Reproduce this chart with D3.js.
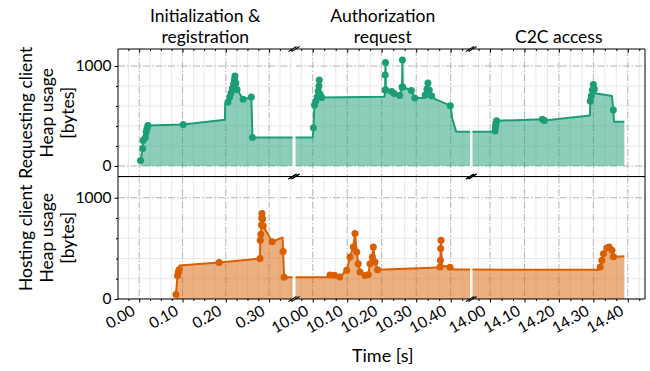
<!DOCTYPE html>
<html>
<head>
<meta charset="utf-8">
<script src="https://cdn.jsdelivr.net/npm/d3@7"></script>
<style>
  html, body { margin: 0; padding: 0; background: #fff; }
  svg { display: block; }
</style>
</head>
<body>
<svg id="chart" width="650" height="371"></svg>
<script>
// Heap usage of the requesting and hosting client over the three protocol phases.

const phaseTitles = [["Initialization &", "registration"], ["Authorization", "request"], ["C2C access"]];
const rowLabels = [["Requesting client", "Heap usage", "[bytes]"], ["Hosting client", "Heap usage", "[bytes]"]];
const xLabel = "Time [s]";

// visible time window of each broken-axis segment
const xDomains = [[-0.049, 0.354], [9.95, 10.456], [13.949, 14.45]];
const xMajorTicks = [[0.0, 0.1, 0.2, 0.3], [10.0, 10.1, 10.2, 10.3, 10.4], [14.0, 14.1, 14.2, 14.3, 14.4]];
const xMinorSteps = [0.025, 0.1 / 3, 0.1 / 3];
const yDomains = [[-105, 1170], [0, 1210]];
const yMajorTicks = [0, 1000];
const yMinorTicks = [200, 400, 600, 800, 1200];

// requesting client: time [s], heap [bytes], marker flag
const reqTime = [0.003, 0.008, 0.009, 0.014, 0.016, 0.018, 0.020, 0.1015, 0.198, 0.1985,
  0.205, 0.209, 0.212, 0.215, 0.218, 0.220, 0.221, 0.223, 0.226, 0.240, 0.259, 0.2615,
  10.000, 10.002, 10.005, 10.009, 10.013, 10.016, 10.018, 10.019, 10.021, 10.026,
  10.208, 10.210, 10.2102, 10.211, 10.212, 10.229, 10.236, 10.252, 10.259, 10.260, 10.261,
  10.286, 10.296, 10.324, 10.326, 10.331, 10.334, 10.338, 10.345, 10.350, 10.399, 10.405, 10.416,
  14.014, 14.0145, 14.0155, 14.0165, 14.0175, 14.019, 14.152, 14.158, 14.290,
  14.291, 14.294, 14.297, 14.300, 14.303, 14.305, 14.354, 14.358, 14.360, 14.390];
const reqHeap = [55, 175, 255, 285, 340, 375, 405, 415, 462, 625,
  640, 690, 730, 775, 820, 865, 900, 830, 765, 667, 690, 285,
  285, 383, 610, 650, 690, 750, 800, 860, 720, 685,
  693, 760, 910, 1035, 760, 745, 725, 705, 790, 1060, 790,
  755, 680, 680, 710, 770, 830, 760, 700, 677, 603, 470, 343,
  343, 350, 385, 415, 440, 452, 468, 455, 505,
  650, 700, 760, 815, 770, 727, 700, 560, 443, 443];
const reqMark = [1, 1, 1, 1, 1, 1, 1, 1, 0, 0,
  1, 1, 1, 1, 1, 1, 1, 1, 1, 1, 1, 1,
  0, 1, 1, 1, 1, 1, 1, 1, 1, 1,
  0, 1, 1, 1, 1, 1, 1, 1, 1, 1, 1,
  1, 1, 0, 1, 1, 1, 1, 1, 0, 1, 0, 0,
  0, 1, 1, 1, 1, 1, 1, 1, 0,
  1, 1, 1, 1, 1, 0, 0, 1, 0, 0];

// hosting client: time [s], heap [bytes], marker flag
const hostTime = [0.0847, 0.0885, 0.0905, 0.0920, 0.093, 0.1845, 0.279, 0.2795, 0.281, 0.2825,
  0.283, 0.2835, 0.285, 0.2865, 0.307, 0.331, 0.3323, 0.3347,
  10.046, 10.050, 10.063, 10.078, 10.0985, 10.108, 10.1177, 10.1226, 10.1275, 10.132, 10.137,
  10.1516, 10.161, 10.166, 10.1728, 10.1757, 10.1806, 10.188, 10.366, 10.369, 10.370, 10.371,
  10.372, 10.374, 10.398, 10.410,
  14.315, 14.3198, 14.3247, 14.3294, 14.339, 14.346, 14.354, 14.3585, 14.390];
const hostHeap = [45, 230, 265, 290, 330, 360, 400, 580, 640, 730,
  800, 845, 790, 720, 565, 608, 470, 216,
  216, 238, 234, 218, 283, 415, 514, 647, 464, 349, 266,
  233, 240, 349, 415, 514, 365, 290, 310, 315, 382, 498,
  580, 330, 313, 292,
  290, 315, 382, 448, 504, 514, 481, 418, 422];
const hostMark = [1, 1, 1, 1, 0, 1, 1, 1, 1, 1,
  1, 1, 1, 1, 1, 0, 1, 1,
  0, 1, 1, 1, 1, 1, 1, 1, 1, 1, 1,
  1, 1, 1, 1, 1, 1, 1, 0, 1, 1, 1,
  1, 0, 1, 0,
  0, 1, 1, 1, 1, 1, 1, 1, 0];

const seriesColors = ["#1b9e77", "#d95f02"];

// ---- layout
const FONT = "Lato, 'Open Sans', 'DejaVu Sans', sans-serif";
const colX = [[118, 292.5], [295.5, 470], [472.5, 645]];
const rowY = [[49, 176.5], [176.5, 299]];

const svg = d3.select("#chart");
const defs = svg.append("defs");

const series = [
  { time: reqTime, heap: reqHeap, mark: reqMark },
  { time: hostTime, heap: hostHeap, mark: hostMark }
];

function minorTicksFor(c) {
  const [a, b] = xDomains[c];
  const step = xMinorSteps[c];
  const base = xMajorTicks[c][0];
  const out = [];
  for (let k = Math.ceil((a - base) / step - 1e-9); base + k * step <= b; k++) {
    const v = base + k * step;
    if (!xMajorTicks[c].some(m => Math.abs(m - v) < 1e-6)) out.push(v);
  }
  return out;
}

rowY.forEach((ry, r) => {
  const ys = d3.scaleLinear().domain(yDomains[r]).range([ry[1], ry[0]]);
  const s = series[r];
  const pts = s.time.map((t, i) => ({ t, v: s.heap[i], m: s.mark[i] }));
  const color = seriesColors[r];

  colX.forEach((cx, c) => {
    const xs = d3.scaleLinear().domain(xDomains[c]).range(cx);
    const id = `clip-${r}-${c}`;
    defs.append("clipPath").attr("id", id)
      .append("rect").attr("x", cx[0]).attr("y", ry[0])
      .attr("width", cx[1] - cx[0]).attr("height", ry[1] - ry[0]);

    const g = svg.append("g").attr("clip-path", `url(#${id})`);

    // grid
    const minors = minorTicksFor(c);
    g.selectAll(".vmin").data(minors).join("line")
      .attr("x1", d => xs(d)).attr("x2", d => xs(d))
      .attr("y1", ry[0]).attr("y2", ry[1])
      .attr("stroke", "#e9e9e9").attr("stroke-width", 1);
    g.selectAll(".hmin").data(yMinorTicks).join("line")
      .attr("x1", cx[0]).attr("x2", cx[1])
      .attr("y1", d => ys(d)).attr("y2", d => ys(d))
      .attr("stroke", "#e9e9e9").attr("stroke-width", 1);
    g.selectAll(".vmaj").data(xMajorTicks[c]).join("line")
      .attr("x1", d => xs(d)).attr("x2", d => xs(d))
      .attr("y1", ry[0]).attr("y2", ry[1])
      .attr("stroke", "#b4b4b4").attr("stroke-width", 1)
      .attr("stroke-dasharray", "7,2,1.5,2");
    g.selectAll(".hmaj").data(yMajorTicks).join("line")
      .attr("x1", cx[0]).attr("x2", cx[1])
      .attr("y1", d => ys(d)).attr("y2", d => ys(d))
      .attr("stroke", "#b4b4b4").attr("stroke-width", 1)
      .attr("stroke-dasharray", "7,2,1.5,2");

    // filled heap curve
    const area = d3.area().x(d => xs(d.t)).y0(ys(0)).y1(d => ys(d.v));
    const line = d3.line().x(d => xs(d.t)).y(d => ys(d.v));
    g.append("path").datum(pts).attr("d", area)
      .attr("fill", color).attr("fill-opacity", 0.5);
    g.append("path").datum(pts).attr("d", line)
      .attr("fill", "none").attr("stroke", color).attr("stroke-width", 2)
      .attr("stroke-linejoin", "round");
    g.selectAll("circle").data(pts.filter(d => d.m)).join("circle")
      .attr("cx", d => xs(d.t)).attr("cy", d => ys(d.v)).attr("r", 3.5)
      .attr("fill", color);

    // spines
    const sp = svg.append("g").attr("stroke", "#000").attr("stroke-width", 1).attr("fill", "none");
    sp.append("line").attr("x1", cx[0]).attr("x2", cx[1]).attr("y1", ry[0]).attr("y2", ry[0]);
    if (r === 1) sp.append("line").attr("x1", cx[0]).attr("x2", cx[1]).attr("y1", ry[1]).attr("y2", ry[1]);
    if (c === 0) sp.append("line").attr("x1", cx[0]).attr("x2", cx[0]).attr("y1", ry[0]).attr("y2", ry[1]);
    if (c === 2) sp.append("line").attr("x1", cx[1]).attr("x2", cx[1]).attr("y1", ry[0]).attr("y2", ry[1]);

    // inward ticks on the top spine of the upper row
    if (r === 0) {
      const tg = svg.append("g").attr("transform", `translate(0,${ry[0]})`);
      tg.call(d3.axisBottom(xs).tickValues(xMajorTicks[c]).tickSize(3.5).tickSizeOuter(0).tickFormat(""));
      tg.append("g").call(d3.axisBottom(xs).tickValues(minors).tickSize(2).tickSizeOuter(0).tickFormat(""));
      tg.selectAll(".domain").remove();
      tg.selectAll("line").attr("stroke", "#000");
    }

    // bottom axis with labels
    if (r === 1) {
      const bg = svg.append("g").attr("transform", `translate(0,${ry[1]})`);
      bg.call(d3.axisBottom(xs).tickValues(xMajorTicks[c]).tickSize(3.5).tickSizeOuter(0)
        .tickFormat(d3.format(".2f")));
      bg.append("g").call(d3.axisBottom(xs).tickValues(minors).tickSize(2).tickSizeOuter(0).tickFormat(""));
      bg.selectAll(".domain").remove();
      bg.selectAll("line").attr("stroke", "#000");
      bg.selectAll("text")
        .attr("x", 0).attr("y", 0).attr("dy", null)
        .attr("text-anchor", "end")
        .attr("transform", "translate(-3.5,15) rotate(-30)")
        .attr("font-family", FONT).attr("font-size", 15.5).attr("fill", "#000");
      bg.attr("font-family", FONT);
    }

    // left value axis
    if (c === 0) {
      const lg = svg.append("g").attr("transform", `translate(${cx[0]},0)`);
      lg.call(d3.axisLeft(ys).tickValues(yMajorTicks).tickSize(3.5).tickSizeOuter(0).tickFormat(d3.format("d")));
      lg.append("g").call(d3.axisLeft(ys).tickValues(yMinorTicks.filter(v => v < 1000)).tickSize(2).tickSizeOuter(0).tickFormat(""));
      lg.selectAll(".domain").remove();
      lg.selectAll("line").attr("stroke", "#000");
      lg.selectAll("text").attr("font-family", FONT).attr("font-size", 15.5).attr("fill", "#000");
      lg.attr("font-family", FONT);
    }
  });

  // row label, three lines rotated
  const cy = (ry[0] + ry[1]) / 2;
  const baseX = [32, 53, 74];
  rowLabels[r].forEach((txt, k) => {
    svg.append("text")
      .attr("transform", `translate(${baseX[k]},${cy}) rotate(-90)`)
      .attr("text-anchor", "middle")
      .attr("font-family", FONT).attr("font-size", 17.5).attr("fill", "#000")
      .text(txt);
  });
});

// break marks between segments
const breaks = [[colX[0][1], colX[1][0]], [colX[1][1], colX[2][0]]];
const markYs = [rowY[0][0], rowY[0][1], rowY[1][0], rowY[1][1]];
const bk = svg.append("g").attr("stroke", "#000").attr("stroke-width", 1.1);
breaks.forEach(pair => {
  pair.forEach(x => {
    markYs.forEach(y => {
      bk.append("line").attr("x1", x - 4).attr("y1", y + 2.5).attr("x2", x + 4).attr("y2", y - 2.5);
    });
  });
});

// phase titles
phaseTitles.forEach((lines, c) => {
  const mid = (colX[c][0] + colX[c][1]) / 2;
  const baselines = lines.length === 2 ? [22, 43] : [43];
  lines.forEach((txt, k) => {
    svg.append("text")
      .attr("x", mid).attr("y", baselines[k])
      .attr("text-anchor", "middle")
      .attr("font-family", FONT).attr("font-size", 17.5).attr("fill", "#000")
      .text(txt);
  });
});

// x axis title
svg.append("text")
  .attr("x", (colX[1][0] + colX[1][1]) / 2).attr("y", 362)
  .attr("text-anchor", "middle")
  .attr("font-family", FONT).attr("font-size", 18).attr("fill", "#000")
  .text(xLabel);
</script>
</body>
</html>
